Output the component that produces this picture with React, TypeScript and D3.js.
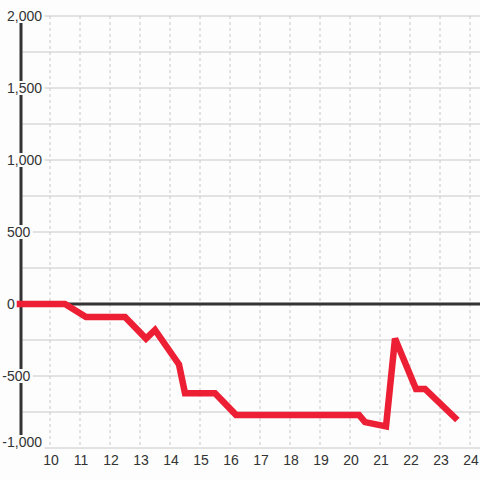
import React from "react";
import * as d3 from "d3";

const hours = [9, 10.5, 11.2, 12.5, 13.2, 13.5, 14.3, 14.5, 15.5, 16.2, 20.3, 20.5, 21.2, 21.5, 22.2, 22.5, 23.5];
const values = [0, 0, -90, -90, -240, -180, -420, -620, -620, -770, -770, -820, -850, -240, -590, -590, -790];
const xTicks = [10, 11, 12, 13, 14, 15, 16, 17, 18, 19, 20, 21, 22, 23, 24];
const yLabelTicks = [-1000, -500, 0, 500, 1000, 1500, 2000];
const yGridTicks = [-1000, -750, -500, -250, 0, 250, 500, 750, 1000, 1250, 1500, 1750, 2000];

const W = 480;
const H = 480;
const BG = "#fcfdfc";
const FONT = "'Liberation Sans', Arial, sans-serif";

function textWidth(s: string) {
  let w = 0;
  for (const c of s) {
    if (c === ",") w += 3.89;
    else if (c === "-") w += 4.66;
    else w += 7.79;
  }
  return w;
}

export default function App() {
  const x = d3.scaleLinear().domain([9, 24.333]).range([20, 480]);
  const y = d3.scaleLinear().domain([-1000, 2000]).range([448, 16]);
  const fmt = (v: number) => d3.format(",")(v).replace("\u2212", "-");
  const pts: [number, number][] = hours.map((h, i) => [h, values[i]]);
  const line = d3
    .line<[number, number]>()
    .x((d) => x(d[0]))
    .y((d) => y(d[1]));
  const yMin = d3.min(yLabelTicks) as number;

  const labelInfo = yLabelTicks.map((t) => {
    const s = fmt(t);
    const w = textWidth(s);
    const x0 = t < 0 ? 7 - 4.66 : 7;
    const cy = y(t) - (t === yMin ? 6 : 0);
    return { t, s, w, x0, cy, end: x0 + w };
  });
  const gridStart = (t: number) => {
    const li = labelInfo.find((l) => l.t === t);
    return li ? li.end + 2.5 : 22.5;
  };

  return (
    <svg
      width={W}
      height={H}
      style={{ position: "absolute", left: 0, top: 0, background: BG }}
    >
      <rect x={0} y={0} width={W} height={H} fill={BG} />
      {/* horizontal gridlines */}
      {yGridTicks.map((t) => (
        <line
          key={"hg" + t}
          x1={gridStart(t)}
          x2={W}
          y1={y(t)}
          y2={y(t)}
          stroke="#c8c8c8"
          strokeWidth={1}
        />
      ))}
      {/* vertical dashed gridlines */}
      {xTicks.map((t) => (
        <line
          key={"vg" + t}
          x1={x(t)}
          x2={x(t)}
          y1={y(2000)}
          y2={y(-1000)}
          stroke="#c8c8c8"
          strokeWidth={1}
          strokeDasharray="3,3"
        />
      ))}
      {/* zero line */}
      <line x1={21} x2={W} y1={y(0)} y2={y(0)} stroke="#333" strokeWidth={3} />
      {/* y axis */}
      <line x1={21} x2={21} y1={y(2000)} y2={y(-1000)} stroke="#333" strokeWidth={3} />
      {/* y labels with background */}
      {labelInfo.map((l) => (
        <g key={"yl" + l.t}>
          <rect x={l.x0 - 1} y={l.cy - 7} width={l.w + 2} height={14} fill={BG} />
          {l.t === yMin && (
            <rect x={15} y={l.cy} width={10} height={y(l.t) - l.cy + 2} fill={BG} />
          )}
          <text
            x={l.x0}
            y={l.cy}
            dy="0.35em"
            textAnchor="start"
            fontFamily={FONT}
            fontSize={14}
            fill="#333"
          >
            {l.s}
          </text>
        </g>
      ))}
      {/* x labels */}
      {xTicks.map((t) => (
        <text
          key={"xl" + t}
          x={x(t) + 1}
          y={465}
          textAnchor="middle"
          fontFamily={FONT}
          fontSize={14}
          fill="#333"
        >
          {t}
        </text>
      ))}
      {/* data line */}
      <path
        d={line(pts) || ""}
        fill="none"
        stroke="#ec1f34"
        strokeWidth={6.5}
        strokeLinejoin="miter"
        strokeLinecap="square"
      />
    </svg>
  );
}
